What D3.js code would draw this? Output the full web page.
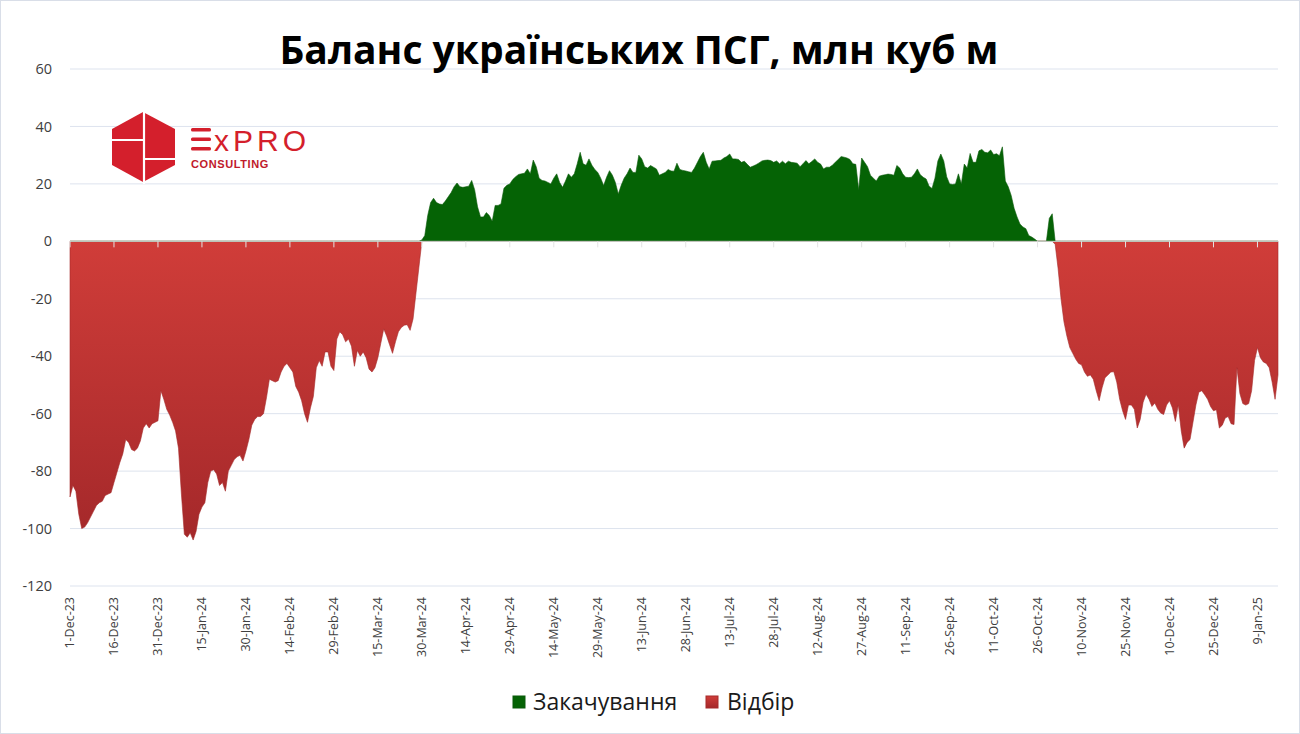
<!DOCTYPE html>
<html lang="uk">
<head>
<meta charset="UTF-8">
<script src="https://d3js.org/d3.v7.min.js"></script>
<style>
  body { margin: 0; background: #fff; }
  svg text { font-family: "Open Sans", "DejaVu Sans", sans-serif; }
</style>
</head>
<body>
<div id="chart_area"></div>
<script>
// daily balance of Ukrainian UGS, mln cubic m (positive = injection, negative = withdrawal)
var dec23 = [-89, -85, -87, -95, -100, -99.5, -98, -96, -94, -92, -91, -90.5, -88.5, -88, -87.5, -84, -80.5, -77, -74, -69, -70, -72.5, -73, -72, -69.5, -65, -63.5, -65, -63.5, -63, -62.5];
var jan24 = [-52, -55, -58.5, -60.5, -63, -66, -72, -88, -102, -103, -101.5, -104, -101, -95, -92.5, -91, -84, -80, -79.5, -81, -85, -84, -87, -80, -78, -76, -75, -74.5, -76.5, -73, -69];
var feb24 = [-64, -62, -61, -61, -60, -54.5, -48, -48.5, -49, -48.5, -45.5, -43.5, -42.5, -44, -45.5, -50.5, -52.5, -55.5, -60, -63, -58, -54, -44, -41.5, -43.5, -38.5, -38.5, -43.5, -45];
var mar24 = [-34, -31.5, -32.5, -35, -34, -36.5, -43.5, -38, -40, -38.5, -40.5, -44.5, -45.5, -44, -40.5, -35.5, -30.5, -33, -36, -39, -35, -31.5, -30, -29.2, -29, -31, -27, -18, -9, 0.5, 2];
var apr24 = [9, 13.5, 15, 13.5, 13, 12.8, 14, 15.5, 17, 19, 20.3, 19, 18.8, 19, 19.2, 21.2, 18, 12, 8.5, 8.5, 10, 9, 7, 12.5, 12.5, 13, 18.5, 19.5, 20, 21.5];
var may24 = [22.5, 23.3, 23.5, 23.7, 25.2, 23.5, 28.3, 26, 22, 21.2, 21, 20.5, 20, 22, 23.5, 20.5, 18.8, 21, 23.5, 22.3, 23.5, 27, 31, 27, 26.5, 28.7, 26.5, 25, 24, 22, 19.4];
var jun24 = [22.3, 24.6, 23, 20.5, 16.5, 19.5, 22, 23.5, 25.5, 24, 24, 30, 28.7, 26, 25.5, 26.4, 25.8, 25.2, 23, 23.5, 24, 25, 24.5, 24.4, 27.2, 25, 24.7, 24.5, 24.2, 24];
var jul24 = [25.5, 27.5, 29.5, 31, 27.5, 25.2, 27.9, 28, 28.1, 28.2, 29, 29.5, 30.4, 28.7, 28.7, 28.5, 27.5, 27.9, 26.8, 25.8, 26.2, 26.7, 27.3, 28, 28.2, 28.3, 28.1, 27.5, 28, 27, 27.9];
var aug24 = [27, 27.9, 27.5, 27.4, 27.2, 26, 27, 28.1, 27, 27.8, 28.7, 27.5, 26.9, 25.2, 25.8, 25.8, 26.5, 27.5, 28.5, 29.5, 29.3, 29, 28.5, 27, 26.8, 18, 29, 27.5, 26, 23, 22];
var sep24 = [21, 22.7, 23, 23.2, 23.4, 23.3, 23, 26.4, 25.5, 23.5, 22.3, 22.2, 22.3, 23.5, 25.2, 23.2, 22.3, 21.7, 19.2, 18.4, 22, 28, 30.4, 28, 22.5, 20, 19.8, 20, 23.5, 20];
var oct24 = [26.9, 25.5, 30.6, 27.5, 27.5, 31.5, 32, 31, 30.8, 31.8, 30.2, 30.5, 29.8, 32.9, 21, 19, 16, 11.5, 8.5, 6, 5, 4.4, 2, 1.5, 0.8, 0, 0, 0, 0, 8, 9.6];
var nov24 = [-1, -9.5, -20, -28, -33, -37, -39, -41, -42.5, -43, -45.5, -47, -46.5, -48, -52, -55.5, -51, -47.5, -46.5, -45.5, -45.4, -49, -55, -59, -62, -57, -57, -58.5, -65, -62];
var dec24 = [-56, -53.2, -55, -57.5, -56.3, -58.5, -59.8, -60.3, -57, -55.5, -58, -62.7, -57, -66, -72, -70, -69, -63, -57, -52.5, -52, -53.4, -55, -57.5, -59, -58.6, -65, -64, -61.5, -61, -63.5];
var jan25 = [-63.8, -44, -53, -56.5, -57, -56.5, -52, -41.5, -37, -40.5, -42, -42.5, -44, -49, -55, -46.5];

var tickLabels = ["1-Dec-23", "16-Dec-23", "31-Dec-23", "15-Jan-24", "30-Jan-24", "14-Feb-24", "29-Feb-24",
  "15-Mar-24", "30-Mar-24", "14-Apr-24", "29-Apr-24", "14-May-24", "29-May-24", "13-Jun-24", "28-Jun-24",
  "13-Jul-24", "28-Jul-24", "12-Aug-24", "27-Aug-24", "11-Sep-24", "26-Sep-24", "11-Oct-24", "26-Oct-24",
  "10-Nov-24", "25-Nov-24", "10-Dec-24", "25-Dec-24", "9-Jan-25"];
var yTicks = [60, 40, 20, 0, -20, -40, -60, -80, -100, -120];
var seriesNames = ["Закачування", "Відбір"];

var width = 1300, height = 734;
var startDate = new Date(2023, 11, 1);
var balance = [].concat(dec23, jan24, feb24, mar24, apr24, may24, jun24, jul24, aug24, sep24, oct24, nov24, dec24, jan25);
var data = balance.map(function (v, i) { return { date: d3.timeDay.offset(startDate, i), value: v }; });

var parseTick = d3.timeParse("%d-%b-%y");

var svg = d3.select("#chart_area").append("svg")
  .attr("width", width)
  .attr("height", height);

svg.append("rect").attr("x", 0.5).attr("y", 0.5).attr("width", width - 1).attr("height", height - 1)
  .attr("fill", "#fff").attr("stroke", "#d9dee8");

var x = d3.scaleTime()
  .domain([startDate, data[data.length - 1].date])
  .range([70, 1278]);

var y = d3.scaleLinear()
  .domain([-120, 60])
  .range([586, 69]);

// gradient for withdrawal
var defs = svg.append("defs");
var grad = defs.append("linearGradient")
  .attr("id", "redGrad")
  .attr("gradientUnits", "userSpaceOnUse")
  .attr("x1", 0).attr("x2", 0)
  .attr("y1", y(0)).attr("y2", y(-104));
grad.append("stop").attr("offset", "0%").attr("stop-color", "#d03d39");
grad.append("stop").attr("offset", "100%").attr("stop-color", "#a4282a");
var legGrad = defs.append("linearGradient")
  .attr("id", "legGrad").attr("x1", 0).attr("x2", 0).attr("y1", 0).attr("y2", 1);
legGrad.append("stop").attr("offset", "0%").attr("stop-color", "#d03d39");
legGrad.append("stop").attr("offset", "100%").attr("stop-color", "#a4282a");

// gridlines
svg.append("g").selectAll("line")
  .data(yTicks.filter(function (d) { return d !== 0; }))
  .enter().append("line")
  .attr("x1", 70).attr("x2", 1278)
  .attr("y1", function (d) { return y(d); })
  .attr("y2", function (d) { return y(d); })
  .attr("stroke", "#dde3ee")
  .attr("stroke-width", 1);

// y labels
svg.append("g").selectAll("text")
  .data(yTicks)
  .enter().append("text")
  .attr("x", 52)
  .attr("y", function (d) { return y(d); })
  .attr("dy", "0.35em")
  .attr("text-anchor", "end")
  .style("font-size", "14.5px")
  .style("fill", "#404040")
  .text(function (d) { return d; });

// areas
var areaNeg = d3.area()
  .x(function (d) { return x(d.date); })
  .y0(y(0))
  .y1(function (d) { return y(Math.min(d.value, 0)); });

var areaPos = d3.area()
  .x(function (d) { return x(d.date); })
  .y0(y(0))
  .y1(function (d) { return y(Math.max(d.value, 0)); });

svg.append("path")
  .datum(data)
  .attr("d", areaNeg)
  .attr("fill", "url(#redGrad)")
  .attr("stroke", "#a52a2a")
  .attr("stroke-width", 0.6);

svg.append("path")
  .datum(data)
  .attr("d", areaPos)
  .attr("fill", "#056305")
  .attr("stroke", "#0b5a0b")
  .attr("stroke-width", 0.6);

// zero axis with ticks
var tickDates = tickLabels.map(parseTick);
svg.append("line")
  .attr("x1", 70).attr("x2", 1278)
  .attr("y1", y(0)).attr("y2", y(0))
  .attr("stroke", "#d9d9d9");
svg.append("g").selectAll("line")
  .data(tickDates)
  .enter().append("line")
  .attr("x1", function (d) { return x(d); })
  .attr("x2", function (d) { return x(d); })
  .attr("y1", y(0)).attr("y2", y(0) + 6)
  .attr("stroke", "#e3e3e3");

// x labels at bottom
svg.append("g").selectAll("text")
  .data(tickLabels)
  .enter().append("text")
  .attr("transform", function (d) { return "translate(" + x(parseTick(d)) + ",597) rotate(-90)"; })
  .attr("dy", "0.35em")
  .attr("text-anchor", "end")
  .style("font-size", "12.5px")
  .style("fill", "#404040")
  .text(function (d) { return d; });

// title
svg.append("text")
  .attr("x", 639)
  .attr("y", 64)
  .attr("text-anchor", "middle")
  .style("font-size", "39px")
  .style("font-weight", "700")
  .style("fill", "#000")
  .text("Баланс українських ПСГ, млн куб м");

// legend
var legend = svg.append("g");
legend.append("rect").attr("x", 513).attr("y", 696).attr("width", 12).attr("height", 12)
  .attr("fill", "#056305").attr("stroke", "#0b5a0b");
legend.append("text").attr("x", 533).attr("y", 710)
  .style("font-size", "23px").style("fill", "#1a1a1a").text(seriesNames[0]);
legend.append("rect").attr("x", 706).attr("y", 696).attr("width", 12).attr("height", 12)
  .attr("fill", "url(#legGrad)").attr("stroke", "#a52a2a");
legend.append("text").attr("x", 727).attr("y", 710)
  .style("font-size", "23px").style("fill", "#1a1a1a").text(seriesNames[1]);

// logo
var logo = svg.append("g");
logo.append("polygon")
  .attr("points", "143,112 175,129 175,165 143,182 112,165 112,129")
  .attr("fill", "#d41f2c");
logo.append("line").attr("x1", 144).attr("x2", 144).attr("y1", 110).attr("y2", 184)
  .attr("stroke", "#fff").attr("stroke-width", 2.2);
logo.append("line").attr("x1", 110).attr("x2", 144).attr("y1", 140).attr("y2", 140)
  .attr("stroke", "#fff").attr("stroke-width", 2.2);
logo.append("line").attr("x1", 144).attr("x2", 177).attr("y1", 159).attr("y2", 159)
  .attr("stroke", "#fff").attr("stroke-width", 2.2);
[128, 137.5, 147].forEach(function (yy) {
  logo.append("rect").attr("x", 191).attr("y", yy).attr("width", 20).attr("height", 3.6)
    .attr("rx", 1.5).attr("fill", "#d41f2c");
});
logo.append("text").attr("x", 214).attr("y", 150.5)
  .style("font-family", "'Liberation Sans', Arial, sans-serif")
  .style("font-size", "30px").style("letter-spacing", "4px")
  .style("fill", "#d41f2c").text("xPRO");
logo.append("text").attr("x", 191).attr("y", 168)
  .style("font-family", "'Liberation Sans', Arial, sans-serif")
  .style("font-size", "11px").style("font-weight", "700").style("letter-spacing", "0.6px")
  .style("fill", "#c01a2a").text("CONSULTING");
</script>
</body>
</html>
